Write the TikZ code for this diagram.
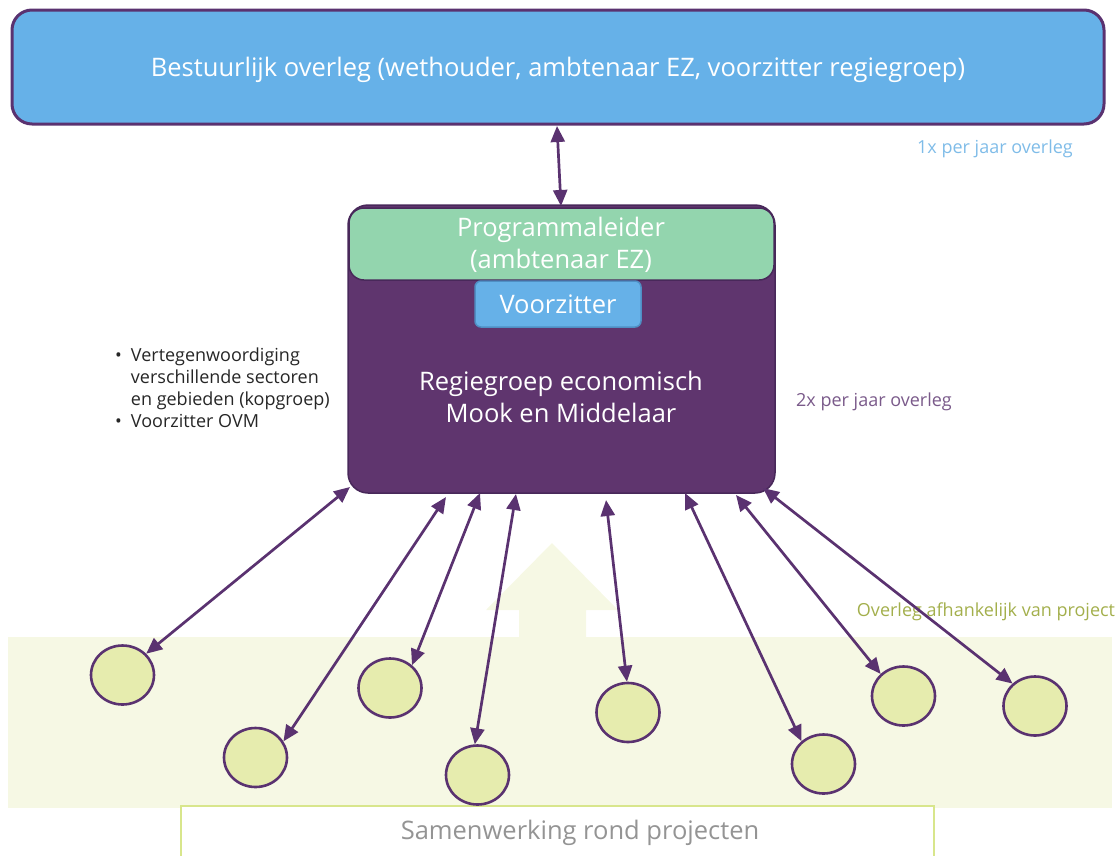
\documentclass[tikz,border=0pt]{standalone}
\usepackage{fontspec}
\setmainfont{Open Sans}
\usetikzlibrary{arrows.meta,shapes.geometric}
\definecolor{topblue}{HTML}{66B1E8}
\definecolor{purp}{HTML}{5F356E}
\definecolor{purpline}{HTML}{5A3270}
\definecolor{greenbox}{HTML}{93D5AE}
\definecolor{band}{HTML}{F6F8E4}
\definecolor{circfill}{HTML}{E6ECAE}
\definecolor{lightgreenline}{HTML}{D8E68C}
\definecolor{onexblue}{HTML}{7FBCE8}
\definecolor{twoxpurp}{HTML}{7A5A8A}
\definecolor{olive}{HTML}{A3AF4C}
\definecolor{vzline}{HTML}{4F8FC4}
\tikzset{
  bigtext/.style={font=\fontsize{25.5}{32}\selectfont, text=white, align=center},
  smalltext/.style={font=\fontsize{18}{22}\selectfont},
  project/.style={ellipse, draw=purpline, line width=2.6pt, fill=circfill, minimum width=63pt, minimum height=59pt, inner sep=0pt},
  link/.style={draw=purpline, line width=2.7pt, {Triangle[length=16pt,width=14pt]}-{Triangle[length=16pt,width=14pt]}}
}
\begin{document}
\begin{tikzpicture}[x=1pt,y=-1pt]
\useasboundingbox (0,0) rectangle (1120,855);
% background band and upward arrow shape
\fill[band] (8,637) rectangle (1112,808);
\fill[band] (519,637) -- (519,610) -- (486,610) -- (552,543) -- (618,610) -- (586,610) -- (586,637) -- cycle;
% bottom box
\node[draw=lightgreenline, line width=2pt, fill=white, minimum width=753pt, minimum height=60pt, inner sep=0pt] (samen) at (557.5,836) {};
\node[font=\fontsize{25.5}{30}\selectfont, text=black!42] (samentxt) at (580,832.5) {Samenwerking rond projecten};
% top box
\node[draw=purpline, line width=3pt, fill=topblue, rounded corners=20pt, minimum width=1092pt, minimum height=114pt, inner sep=0pt] (top) at (558,67) {};
\node[bigtext] (toptxt) at (558,69.5) {Bestuurlijk overleg (wethouder, ambtenaar EZ, voorzitter regiegroep)};
\node[smalltext, text=onexblue] (onex) at (995,149) {1x per jaar overleg};
% regiegroep box
\node[draw=purpline!80!black, line width=1.5pt, fill=purp, rounded corners=20pt, minimum width=427pt, minimum height=288pt, inner sep=0pt] (regie) at (561.5,349) {};
\node[draw=purpline!80!black, line width=1.5pt, fill=greenbox, rounded corners=15pt, minimum width=425pt, minimum height=72pt, inner sep=0pt] (prog) at (561.5,244) {};
\node[bigtext] (progtxt) at (561,244.5) {Programmaleider\\(ambtenaar EZ)};
\node[draw=vzline, line width=1.5pt, fill=topblue, rounded corners=6pt, minimum width=166pt, minimum height=46pt, inner sep=0pt] (vz) at (558,304) {};
\node[bigtext] (vztxt) at (558,304) {Voorzitter};
\node[bigtext] (regietxt) at (561,397) {Regiegroep economisch\\Mook en Middelaar};
\node[smalltext, text=twoxpurp] (twox) at (874,402) {2x per jaar overleg};
% bullet list
\node[smalltext, text=black!85, anchor=north west, inner sep=0pt] (bullets) at (115,346) {%
\begin{tabular}{@{}l@{\hspace{9pt}}l@{}}
\textbullet & Vertegenwoordiging\\
 & verschillende sectoren\\
 & en gebieden (kopgroep)\\
\textbullet & Voorzitter OVM
\end{tabular}};
\node[smalltext, text=olive] (afh) at (986,612) {Overleg afhankelijk van project};
% project circles
\node[project] (c1) at (122.5,675) {};
\node[project] (c2) at (255.5,757.5) {};
\node[project] (c3) at (390,688) {};
\node[project] (c4) at (477.5,775) {};
\node[project] (c5) at (628,712.5) {};
\node[project] (c6) at (823.5,764) {};
\node[project] (c7) at (903.5,696) {};
\node[project] (c8) at (1035,706) {};
% connector end points
\coordinate (t1) at (557,126);
\coordinate (t2) at (561,206);
\coordinate (b1) at (350,487);
\coordinate (b2) at (446,497);
\coordinate (b3) at (480,493);
\coordinate (b4) at (516,494);
\coordinate (b5) at (606,500);
\coordinate (b6) at (685,493);
\coordinate (b7) at (736,495);
\coordinate (b8) at (763,488);
% connectors
\draw[link] (t1) -- (t2);
\draw[link] (b1) -- (c1.42);
\draw[link] (b2) -- (c2.30);
\draw[link] (b3) -- (c3.46);
\draw[link] (b4) -- (c4.95);
\draw[link] (b5) -- (c5.92);
\draw[link] (b6) -- (c6.134);
\draw[link] (b7) -- (c7.136);
\draw[link] (b8) -- (c8.135);
\end{tikzpicture}
\end{document}
